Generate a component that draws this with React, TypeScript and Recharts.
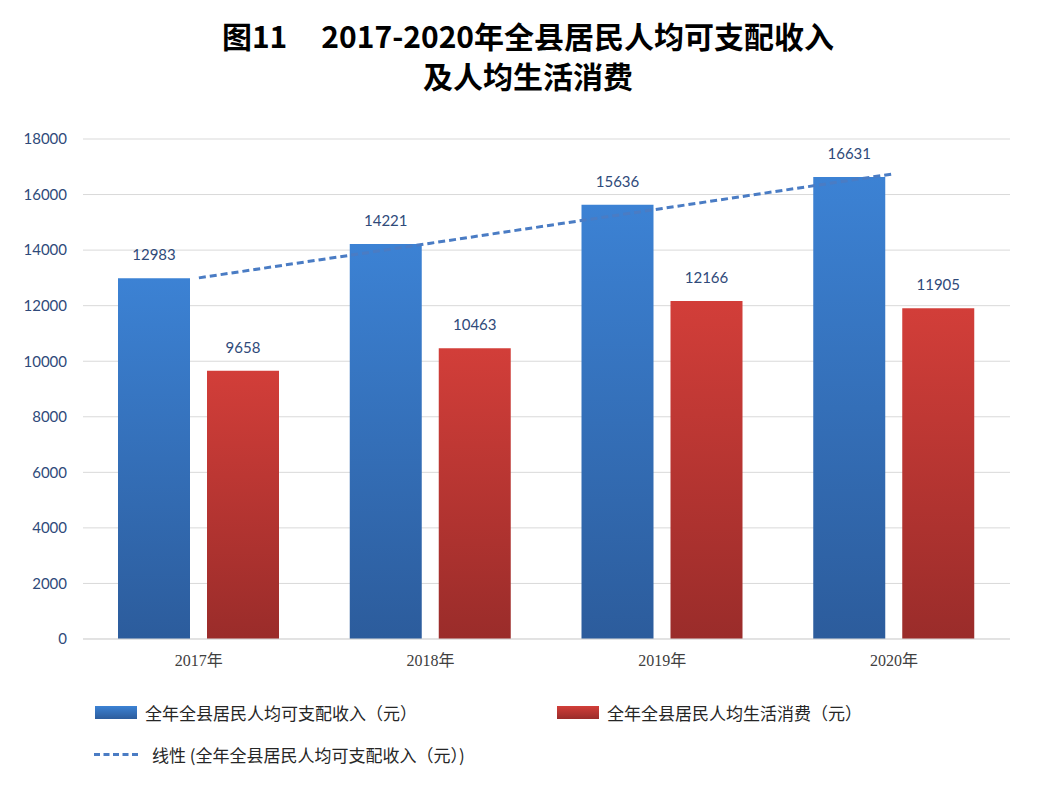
import { ComposedChart, Bar, Line, XAxis, YAxis, CartesianGrid, LabelList } from 'recharts'

const years = ['2017年', '2018年', '2019年', '2020年']
const income = [12983, 14221, 15636, 16631]
const spending = [9658, 10463, 12166, 11905]
const trend = [13000, 14250, 15500, 16750]
const yTicks = [0, 2000, 4000, 6000, 8000, 10000, 12000, 14000, 16000, 18000]

const rows = years.map((y, i) => ({ year: y, income: income[i], spending: spending[i], trend: trend[i] }))

const numFont = 'Lato, "Open Sans", sans-serif'
const cjk = '"Noto Sans CJK SC", sans-serif'

export default function App() {
  return (
    <div style={{ margin: -8, width: 1054, height: 787, border: '1px solid #d9d9d9', position: 'relative', background: '#fff' }}>
      <div style={{ position: 'absolute', top: 14, left: 0, width: 1054, textAlign: 'center', fontFamily: cjk, fontWeight: 700, fontSize: 30, lineHeight: '40px', color: '#000' }}>
        <div>图11&nbsp;&nbsp;&nbsp;&nbsp;&nbsp;2017-2020年全县居民人均可支配收入</div>
        <div>及人均生活消费</div>
      </div>
      <ComposedChart width={1056} height={672} data={rows} margin={{ top: 138, right: 47, left: 22, bottom: 0 }} barSize={72} barGap={17}>
        <defs>
          <linearGradient id="blueFill" x1="0" y1="0" x2="0" y2="1">
            <stop offset="0%" stopColor="#3c82d4" />
            <stop offset="100%" stopColor="#2c5c9c" />
          </linearGradient>
          <linearGradient id="redFill" x1="0" y1="0" x2="0" y2="1">
            <stop offset="0%" stopColor="#d23e39" />
            <stop offset="100%" stopColor="#9a2c2a" />
          </linearGradient>
        </defs>
        <CartesianGrid vertical={false} stroke="#d9d9d9" />
        <XAxis dataKey="year" tickLine={false} axisLine={{ stroke: '#d9d9d9' }} height={34}
          tick={{ fontSize: 16, fill: '#404040', fontFamily: '"Liberation Serif", "Noto Sans CJK SC", serif' }} tickMargin={10} />
        <YAxis domain={[0, 18000]} ticks={yTicks} tickLine={false} axisLine={false} width={60}
          tick={{ fontSize: 15, fill: '#2f4a7a', fontFamily: numFont }} tickMargin={10} />
        <Bar dataKey="income" fill="url(#blueFill)" isAnimationActive={false}>
          <LabelList dataKey="income" position="top" offset={18} style={{ fontSize: 15, fill: '#2f4a7a', fontFamily: numFont }} />
        </Bar>
        <Bar dataKey="spending" fill="url(#redFill)" isAnimationActive={false}>
          <LabelList dataKey="spending" position="top" offset={18} style={{ fontSize: 15, fill: '#2f4a7a', fontFamily: numFont }} />
        </Bar>
        <Line dataKey="trend" stroke="#4a7cc4" strokeWidth={3} strokeDasharray="7 4" dot={false} isAnimationActive={false} />
      </ComposedChart>
      <div style={{ position: 'absolute', top: 699, left: 94, fontFamily: cjk, fontSize: 17, color: '#262626', display: 'flex', alignItems: 'center' }}>
        <span style={{ width: 42, height: 13, background: 'linear-gradient(#3c82d4,#2c5c9c)', marginRight: 8 }} />
        全年全县居民人均可支配收入（元）
      </div>
      <div style={{ position: 'absolute', top: 699, left: 556, fontFamily: cjk, fontSize: 17, color: '#262626', display: 'flex', alignItems: 'center' }}>
        <span style={{ width: 42, height: 13, background: 'linear-gradient(#d23e39,#9a2c2a)', marginRight: 8 }} />
        全年全县居民人均生活消费（元）
      </div>
      <div style={{ position: 'absolute', top: 741, left: 93, fontFamily: cjk, fontSize: 17, color: '#262626', display: 'flex', alignItems: 'center' }}>
        <span style={{ width: 44, height: 0, borderTop: '3px dashed #4a7cc4', marginRight: 14 }} />
        线性 (全年全县居民人均可支配收入（元）)
      </div>
    </div>
  )
}
